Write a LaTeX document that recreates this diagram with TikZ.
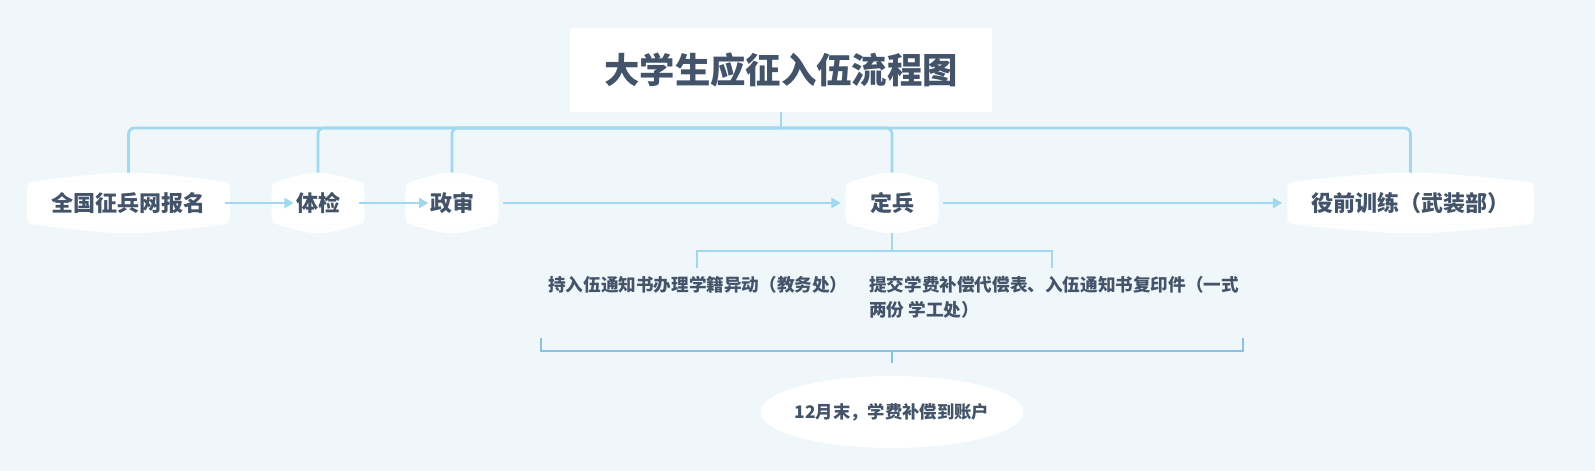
\documentclass[tikz,border=0pt]{standalone}
\usepackage{fontspec}
\setmainfont{Noto Sans CJK SC}
\usetikzlibrary{arrows.meta,backgrounds}
\definecolor{bgcol}{HTML}{EFF7FA}
\definecolor{linecol}{HTML}{A0D8EF}
\definecolor{bracecol}{HTML}{88C2E4}
\definecolor{txtcol}{HTML}{435369}
\tikzset{
  stepnode/.style={text=txtcol, font=\fontsize{16.5pt}{20pt}\selectfont\bfseries,
    minimum height=45pt, inner xsep=18pt},
  conn/.style={draw=linecol, line width=2pt},
  flow/.style={conn, -{Triangle[length=7pt,width=7.5pt]}},
  brace/.style={draw=bracecol, line width=0.9pt},
  note/.style={text=txtcol, font=\fontsize{13.2pt}{18.75pt}\selectfont\bfseries,
    align=left, inner sep=0pt},
}
\begin{document}
\begin{tikzpicture}[x=0.75pt,y=-0.75pt]
  \useasboundingbox (0,0) rectangle (1595,471);
  % title
  \node (title) [fill=white, minimum width=316.5pt, minimum height=63pt, text=txtcol,
    font=\fontsize{26.5pt}{32pt}\selectfont\bfseries] at (781,70) {大学生应征入伍流程图};
  % steps
  \node (quanguo)   [stepnode] at (128.5,203) {全国征兵网报名};
  \node (tijian)    [stepnode] at (318,203)   {体检};
  \node (zhengshen) [stepnode] at (452,203)   {政审};
  \node (dingbing)  [stepnode] at (892,203)   {定兵};
  \node (yiqian)    [stepnode] at (1410.5,203) {役前训练（武装部）};
  % notes
  \node (note1) [note, anchor=west] at (548,285) {持入伍通知书办理学籍异动（教务处）};
  \node (note2) [note, anchor=west] at (869,297.5) {提交学费补偿代偿表、入伍通知书复印件（一式\\两份 学工处）};
  \node (account) [text=txtcol, font=\fontsize{13pt}{16pt}\selectfont\bfseries]
    at (892,412) {12月末，学费补偿到账户};
  \begin{pgfonlayer}{background}
    \fill[bgcol] (0,0) rectangle (1595,471);
    \foreach \n in {quanguo,tijian,zhengshen,dingbing,yiqian}{
      \fill[white, rounded corners=4pt] ([yshift=-6.75pt]\n.north west) rectangle ([yshift=6.75pt]\n.south east);
      \fill[white] ([xshift=3pt,yshift=-6.75pt]\n.north west) .. controls ([yshift=2.25pt]\n.north) .. ([xshift=-3pt,yshift=-6.75pt]\n.north east) -- cycle;
      \fill[white] ([xshift=3pt,yshift=6.75pt]\n.south west) .. controls ([yshift=-2.25pt]\n.south) .. ([xshift=-3pt,yshift=6.75pt]\n.south east) -- cycle;
    }
    \fill[white] (account.center) ellipse [x radius=98.5pt, y radius=27pt];
  \end{pgfonlayer}
  % tree from title
  \coordinate (bus) at (781,128);
  \draw[conn] (title.south) -- (bus);
  \foreach \n in {quanguo,tijian,zhengshen,dingbing,yiqian}
    \draw[conn, rounded corners=4.5pt] (bus) -| (\n.north);
  % arrows
  \draw[flow] ([xshift=-3.75pt]quanguo.east) -- ([xshift=16.5pt]tijian.west);
  \draw[flow] ([xshift=-3.75pt]tijian.east) -- ([xshift=17pt]zhengshen.west);
  \draw[flow] ([xshift=3.75pt]zhengshen.east) -- ([xshift=-3.75pt]dingbing.west);
  \draw[flow] ([xshift=3.75pt]dingbing.east) -- ([xshift=-3.75pt]yiqian.west);
  % split under dingbing
  \coordinate (split) at (892,251);
  \coordinate (ltick) at (697,268);
  \coordinate (rtick) at (1052,268);
  \draw[conn] (dingbing.south) -- (split);
  \draw[conn] (ltick) |- (split) -| (rtick);
  % bracket
  \coordinate (bl) at (541,338);
  \coordinate (br) at (1243,338);
  \coordinate (bmid) at (892,351);
  \draw[brace] (bl) |- (bmid) -| (br);
  \draw[brace] (bmid) -- ++(0,12);
\end{tikzpicture}
\end{document}
